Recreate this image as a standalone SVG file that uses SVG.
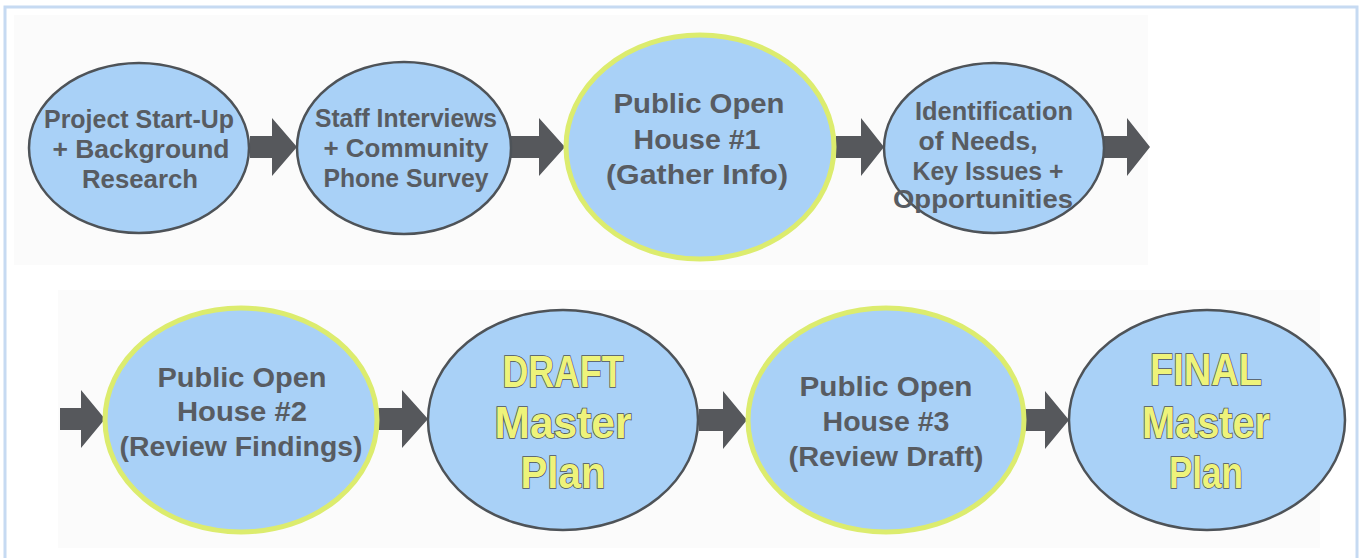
<svg xmlns="http://www.w3.org/2000/svg" width="1363" height="558" viewBox="0 0 1363 558">
<style>
.node{fill:#a9d1f7;stroke:#4e5358;stroke-width:2.5}
.hi{fill:#a9d1f7;stroke:#dcec6e;stroke-width:5}
.t{font-family:"Liberation Sans",Arial,sans-serif;font-weight:bold;fill:#585c62;text-anchor:middle}
.s{font-size:25px}
.m{font-size:27px}
.big{font-family:"Liberation Sans",Arial,sans-serif;font-weight:bold;font-size:44px;fill:#eef37a;stroke:#4e5358;stroke-width:1.6;text-anchor:middle;paint-order:stroke}
.arr{fill:#56585c}
</style>
<rect x="0" y="0" width="1363" height="558" fill="#ffffff"/>
<rect x="14" y="15" width="1134" height="250" fill="#fbfbfb"/>
<rect x="58" y="290" width="1262" height="258" fill="#fbfbfb"/>
<rect x="5" y="7" width="1352" height="570" fill="none" stroke="#c6daf2" stroke-width="3"/>
<g id="connectors">
<polygon class="arr" points="250,136 272,136 272,118 297,147 272,176 272,158 250,158"/>
<polygon class="arr" points="506,136 539,136 539,118 565,147 539,176 539,158 506,158"/>
<polygon class="arr" points="836,136 861,136 861,118 884,147 861,176 861,158 836,158"/>
<polygon class="arr" points="1104,136 1127,136 1127,118 1150,147 1127,176 1127,158 1104,158"/>
<polygon class="arr" points="60,408 81,408 81,390 105,419 81,448 81,430 60,430"/>
<polygon class="arr" points="376,408 402,408 402,390 428,419 402,448 402,430 376,430"/>
<polygon class="arr" points="699,409 723,409 723,391 747,420 723,449 723,431 699,431"/>
<polygon class="arr" points="1025,409 1045,409 1045,391 1069,420 1045,449 1045,431 1025,431"/>
</g>
<g id="n1">
<ellipse class="node" cx="139" cy="148" rx="110" ry="85"/>
<text class="t s" x="139" y="128" textLength="190" lengthAdjust="spacingAndGlyphs">Project Start-Up</text>
<text class="t s" x="141" y="158" textLength="177" lengthAdjust="spacingAndGlyphs">+ Background</text>
<text class="t s" x="140" y="188" textLength="116" lengthAdjust="spacingAndGlyphs">Research</text>
</g>
<g id="n2">
<ellipse class="node" cx="404" cy="148" rx="107" ry="86"/>
<text class="t s" x="406" y="127" textLength="182" lengthAdjust="spacingAndGlyphs">Staff Interviews</text>
<text class="t s" x="406" y="157" textLength="165" lengthAdjust="spacingAndGlyphs">+ Community</text>
<text class="t s" x="406" y="187" textLength="165" lengthAdjust="spacingAndGlyphs">Phone Survey</text>
</g>
<g id="n3">
<ellipse class="hi" cx="700" cy="147" rx="134" ry="112"/>
<text class="t m" x="699" y="113" textLength="171" lengthAdjust="spacingAndGlyphs">Public Open</text>
<text class="t m" x="697" y="149" textLength="127" lengthAdjust="spacingAndGlyphs">House #1</text>
<text class="t m" x="697" y="184" textLength="182" lengthAdjust="spacingAndGlyphs">(Gather Info)</text>
</g>
<g id="n4">
<ellipse class="node" cx="994" cy="148" rx="110" ry="85"/>
<text class="t s" x="994" y="120" textLength="158" lengthAdjust="spacingAndGlyphs">Identification</text>
<text class="t s" x="978" y="150" textLength="119" lengthAdjust="spacingAndGlyphs">of Needs,</text>
<text class="t s" x="988" y="180" textLength="151" lengthAdjust="spacingAndGlyphs">Key Issues +</text>
<text class="t s" x="983" y="208" textLength="180" lengthAdjust="spacingAndGlyphs">Opportunities</text>
</g>
<g id="n5">
<ellipse class="hi" cx="241" cy="420" rx="136" ry="112"/>
<text class="t m" x="242" y="387" textLength="169" lengthAdjust="spacingAndGlyphs">Public Open</text>
<text class="t m" x="242" y="421" textLength="130" lengthAdjust="spacingAndGlyphs">House #2</text>
<text class="t m" x="241" y="456" textLength="243" lengthAdjust="spacingAndGlyphs">(Review Findings)</text>
</g>
<g id="n6">
<ellipse class="node" cx="563" cy="420" rx="135" ry="110"/>
<text class="big" x="563" y="387" textLength="121" lengthAdjust="spacingAndGlyphs">DRAFT</text>
<text class="big" x="563" y="438" textLength="137" lengthAdjust="spacingAndGlyphs">Master</text>
<text class="big" x="563" y="488" textLength="85" lengthAdjust="spacingAndGlyphs">Plan</text>
</g>
<g id="n7">
<ellipse class="hi" cx="886" cy="420" rx="138" ry="112"/>
<text class="t m" x="886" y="396" textLength="173" lengthAdjust="spacingAndGlyphs">Public Open</text>
<text class="t m" x="886" y="431" textLength="127" lengthAdjust="spacingAndGlyphs">House #3</text>
<text class="t m" x="886" y="466" textLength="195" lengthAdjust="spacingAndGlyphs">(Review Draft)</text>
</g>
<g id="n8">
<ellipse class="node" cx="1207" cy="420" rx="138" ry="110"/>
<text class="big" x="1206" y="385" textLength="112" lengthAdjust="spacingAndGlyphs">FINAL</text>
<text class="big" x="1206" y="438" textLength="128" lengthAdjust="spacingAndGlyphs">Master</text>
<text class="big" x="1206" y="488" textLength="74" lengthAdjust="spacingAndGlyphs">Plan</text>
</g>
</svg>
